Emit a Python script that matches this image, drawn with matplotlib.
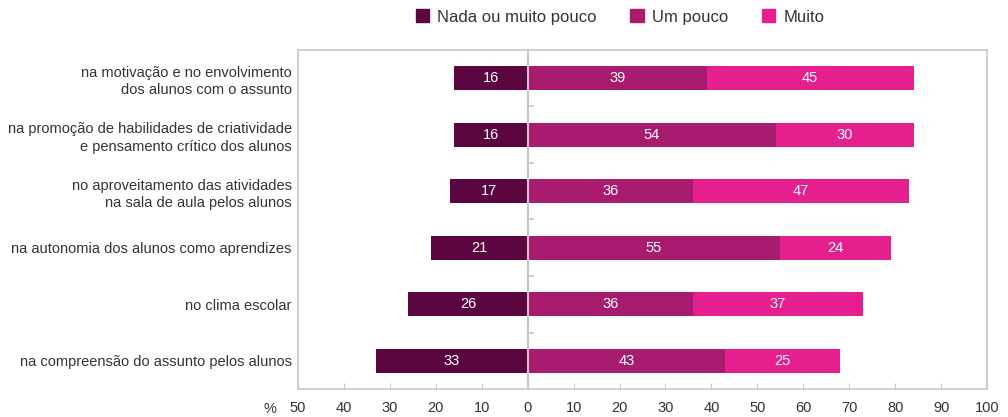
import matplotlib
matplotlib.use("Agg")
import matplotlib.pyplot as plt
import numpy as np
from matplotlib.patches import Patch

plt.rcParams['font.family'] = ['Liberation Sans', 'DejaVu Sans']

categories = [
    "na motivação e no envolvimento\ndos alunos com o assunto",
    "na promoção de habilidades de criatividade\ne pensamento crítico dos alunos",
    "no aproveitamento das atividades\nna sala de aula pelos alunos",
    "na autonomia dos alunos como aprendizes",
    "no clima escolar",
    "na compreensão do assunto pelos alunos",
]
nada = [16, 16, 17, 21, 26, 33]
um_pouco = [39, 54, 36, 55, 36, 43]
muito = [45, 30, 47, 24, 37, 25]
series_names = ["Nada ou muito pouco", "Um pouco", "Muito"]
xticks = [-50, -40, -30, -20, -10, 0, 10, 20, 30, 40, 50, 60, 70, 80, 90, 100]

c_nada = "#5c0641"
c_um = "#a81c6f"
c_muito = "#e61f8f"
grey = "#c8c8c8"
txt = "#333333"

fig = plt.figure(figsize=(10.08, 4.17), dpi=100)
ax = fig.add_axes([298/1008, 1 - 389/417, (987-298)/1008, (389-50)/417])

y = np.arange(len(categories))
h = 0.42
nada_a = np.array(nada)
um_a = np.array(um_pouco)
mu_a = np.array(muito)

b1 = ax.barh(y, -nada_a, height=h, color=c_nada, zorder=2)
b2 = ax.barh(y, um_a, height=h, color=c_um, zorder=2)
b3 = ax.barh(y, mu_a, left=um_a, height=h, color=c_muito, zorder=2)

for bars, vals in ((b1, nada_a), (b2, um_a), (b3, mu_a)):
    for rect, v in zip(bars, vals):
        cx = rect.get_x() + rect.get_width() / 2
        cy = rect.get_y() + rect.get_height() / 2
        ax.text(cx, cy, str(v), ha="center", va="center", color="white",
                fontsize=10.5, zorder=3)

ax.set_xlim(-50, 100)
ax.set_ylim(len(categories) - 0.5, -0.5)

ax.axvline(0, color=grey, lw=1.5, zorder=3)
bounds = np.arange(len(categories) - 1) + 0.5
ax.hlines(bounds, 0, 1.3, color=grey, lw=1.2, zorder=3)

for s in ax.spines.values():
    s.set_color(grey)
    s.set_linewidth(1.2)

ax.set_xticks(xticks)
ax.set_xticklabels([str(abs(t)) for t in xticks])
ax.tick_params(axis="x", direction="in", length=4, color=grey, labelsize=10.5,
               labelcolor=txt, pad=9)
ax.set_yticks(y)
ax.set_yticklabels(categories, fontsize=10.5, color=txt, ha="right",
                   multialignment="right", linespacing=1.3)
ax.tick_params(axis="y", length=0, pad=4.5)

fig.text(270/1008, 1 - 409/417, "%", fontsize=10.5, color=txt, ha="center",
         va="center")

handles = [Patch(color=c) for c in (c_nada, c_um, c_muito)]
fig.legend(handles, series_names, loc="center", bbox_to_anchor=(620/1008, 1 - 17/417),
           ncol=3, frameon=False, fontsize=12, handlelength=0.8, handleheight=0.8,
           handletextpad=0.5, columnspacing=2.0, labelcolor=txt)

fig.savefig("out.png", dpi=100)
